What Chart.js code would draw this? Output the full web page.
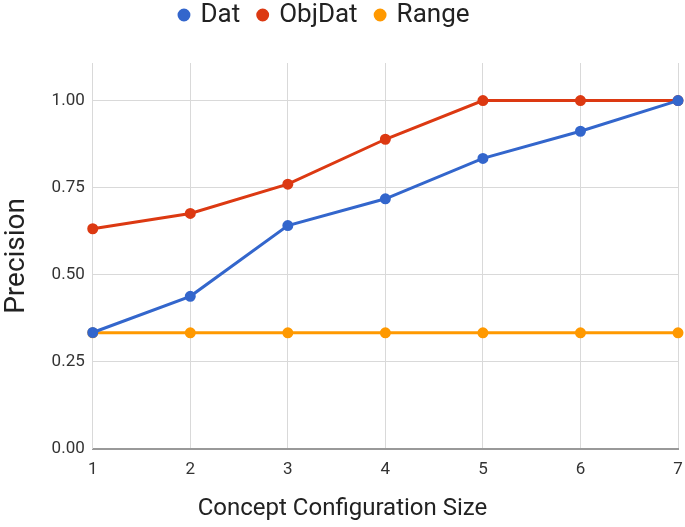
<!DOCTYPE html>
<html>
<head>
<meta charset="utf-8">
<script src="https://cdn.jsdelivr.net/npm/chart.js@4"></script>
<style>
  html, body { margin: 0; padding: 0; background: #fff; }
  #wrap { width: 685px; height: 527px; }
</style>
</head>
<body>
<div id="wrap"><canvas id="grafico" width="685" height="527"></canvas></div>
<script>
const tamanos = ["1", "2", "3", "4", "5", "6", "7"];
const dat = [0.334, 0.438, 0.641, 0.718, 0.834, 0.912, 1.0];
const objDat = [0.632, 0.676, 0.760, 0.889, 1.0, 1.0, 1.0];
const rango = [0.333, 0.333, 0.333, 0.333, 0.333, 0.333, 0.333];
const ticksY = [0, 0.25, 0.5, 0.75, 1.0];

function serie(label, data, color) {
  return {
    label: label,
    data: data,
    borderColor: color,
    backgroundColor: color,
    borderWidth: 3,
    pointRadius: 4,
    pointHoverRadius: 4,
    tension: 0
  };
}

// mas espacio bajo la leyenda y la leyenda un poco a la izquierda
const ajusteLeyenda = {
  id: "ajusteLeyenda",
  beforeInit(chart) {
    const fitOriginal = chart.legend.fit;
    chart.legend.fit = function () {
      fitOriginal.bind(chart.legend)();
      this.height += 25;
    };
  },
  afterLayout(chart) {
    chart.legend.right -= 35;
    chart.legend.width -= 35;
  }
};

Chart.defaults.font.family = "Roboto, 'Noto Sans', sans-serif";
Chart.defaults.color = "#222";

new Chart(document.getElementById("grafico").getContext("2d"), {
  type: "line",
  data: {
    labels: tamanos,
    datasets: [
      serie("Dat", dat, "#3366cc"),
      serie("ObjDat", objDat, "#dc3912"),
      serie("Range", rango, "#ff9900")
    ]
  },
  plugins: [ajusteLeyenda],
  options: {
    responsive: false,
    animation: false,
    layout: { padding: { left: 0, right: 0, top: -17, bottom: 4 } },
    plugins: {
      legend: {
        position: "top",
        labels: {
          usePointStyle: true,
          pointStyle: "circle",
          boxWidth: 7,
          boxHeight: 7,
          padding: 19,
          color: "#222",
          font: { size: 26 }
        }
      },
      title: {
        display: true,
        position: "bottom",
        text: "Concept Configuration Size",
        color: "#222",
        font: { size: 24, weight: "normal" },
        padding: { top: 12, bottom: 0 }
      },
      tooltip: { enabled: false }
    },
    scales: {
      x: {
        offset: false,
        grid: { color: "#d9d9d9", drawTicks: true, tickLength: 9, tickColor: "rgba(0,0,0,0)" },
        border: { color: "#999", width: 2 },
        ticks: { color: "#333", font: { size: 17 }, padding: 2, maxRotation: 0 }
      },
      y: {
        min: 0,
        max: 1.108,
        afterBuildTicks: scale => {
          scale.ticks = ticksY.map(v => ({ value: v }));
        },
        grid: { color: "#d9d9d9", drawTicks: false },
        border: { color: "#d9d9d9" },
        ticks: {
          color: "#333",
          font: { size: 17 },
          padding: 8,
          callback: v => Number(v).toFixed(2)
        },
        title: { display: true, text: "Precision", color: "#222", font: { size: 28 }, padding: { top: 0, bottom: 10 } }
      }
    }
  }
});
</script>
</body>
</html>
